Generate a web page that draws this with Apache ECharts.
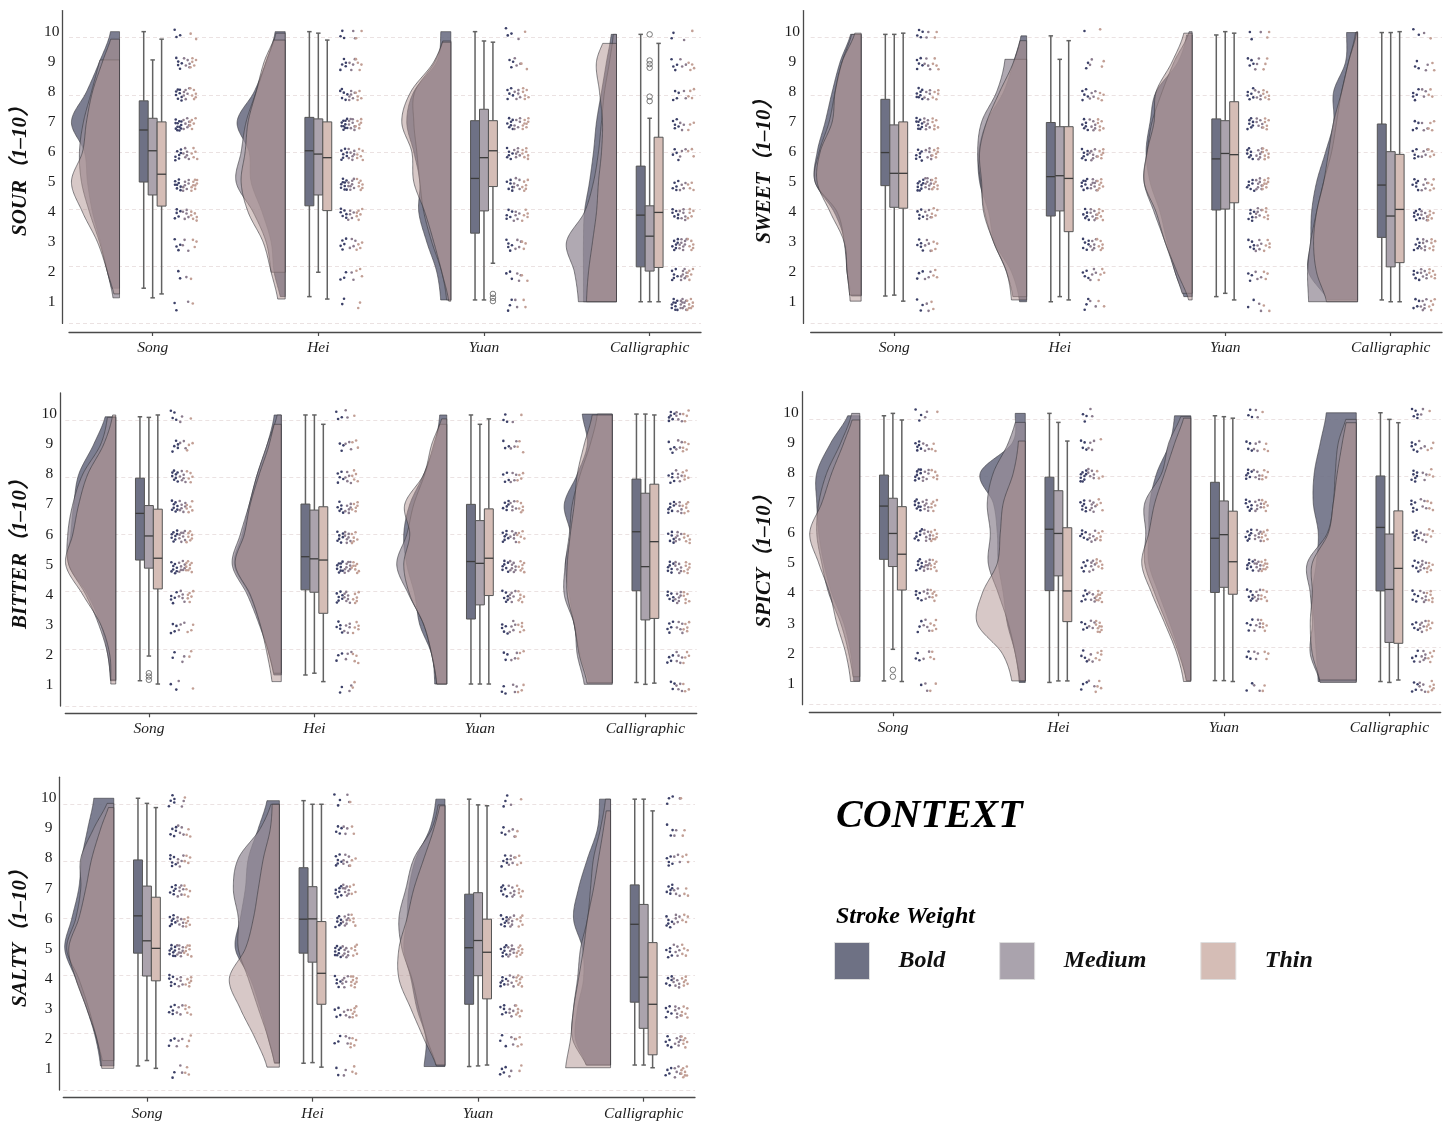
<!DOCTYPE html>
<html>
<head>
<meta charset="utf-8">
<script src="https://cdn.jsdelivr.net/npm/echarts@6/dist/echarts.min.js"></script>
<style>html,body{margin:0;padding:0;background:#fff}#main{width:1452px;height:1131px}</style>
</head>
<body>
<div id="main"></div>
<script>
// ---------------- DATA ----------------
const categories = ['Song', 'Hei', 'Yuan', 'Calligraphic'];
const groups = ['Bold', 'Medium', 'Thin'];
const tastes = ['SOUR', 'SWEET', 'BITTER', 'SPICY', 'SALTY'];
const yTickValues = [1, 2, 3, 4, 5, 6, 7, 8, 9, 10];
const responseLevels = [1, 2, 3, 4, 5, 6, 7, 8, 9, 10];

// box stats per category -> [Bold, Medium, Thin] : [lower whisker, Q1, median, Q3, upper whisker]
const sourBox = [
  [[1.47, 5.00, 6.73, 7.70, 10.0], [1.15, 4.57, 6.04, 7.12, 9.06], [1.28, 4.20, 5.26, 7.00, 9.75]],
  [[1.19, 4.21, 6.04, 7.15, 10.0], [2.00, 4.57, 5.93, 7.10, 9.95], [1.11, 4.05, 5.81, 7.00, 9.72]],
  [[1.08, 3.30, 5.12, 7.04, 10.0], [1.08, 4.04, 5.81, 7.42, 9.69], [2.30, 4.85, 6.04, 7.04, 9.65]],
  [[1.02, 2.18, 3.90, 5.53, 9.91], [1.02, 2.04, 3.20, 4.21, 7.12], [1.02, 2.16, 3.99, 6.49, 9.61]]
];
const sweetBox = [
  [[1.21, 4.88, 5.98, 7.75, 9.91], [1.24, 4.16, 5.29, 6.90, 9.91], [1.04, 4.13, 5.29, 7.00, 9.95]],
  [[1.02, 3.87, 5.18, 6.98, 9.86], [1.19, 4.04, 5.21, 6.84, 9.08], [1.08, 3.35, 5.12, 6.84, 9.70]],
  [[1.19, 4.07, 5.77, 7.10, 9.89], [1.30, 4.10, 5.95, 7.04, 10.0], [1.08, 4.31, 5.91, 7.67, 9.95]],
  [[1.08, 3.16, 4.90, 6.93, 9.97], [1.02, 2.18, 3.87, 6.01, 9.97], [1.02, 2.32, 4.09, 5.92, 10.0]]
];
const bitterBox = [
  [[1.14, 5.15, 6.70, 7.87, 9.91], [1.96, 4.88, 5.95, 6.96, 9.89], [1.03, 4.19, 5.21, 6.84, 9.97]],
  [[1.33, 4.16, 5.26, 7.01, 9.97], [1.39, 4.08, 5.19, 6.81, 9.97], [1.11, 3.38, 5.15, 6.92, 9.66]],
  [[1.03, 3.19, 5.10, 7.00, 9.97], [1.03, 3.66, 5.04, 6.46, 9.66], [1.03, 3.97, 5.21, 6.85, 9.84]],
  [[1.08, 4.13, 6.09, 7.84, 10.0], [1.02, 3.16, 4.93, 7.37, 10.0], [1.06, 3.21, 5.76, 7.67, 9.97]]
];
const spicyBox = [
  [[1.09, 5.13, 6.90, 7.93, 9.90], [2.14, 4.89, 5.99, 7.16, 9.98], [1.07, 4.11, 5.30, 6.88, 9.76]],
  [[1.04, 4.09, 6.13, 7.86, 9.98], [1.09, 4.58, 5.99, 7.41, 9.68], [1.09, 3.06, 4.08, 6.18, 9.06]],
  [[1.10, 4.03, 5.83, 7.69, 9.90], [1.10, 4.20, 5.95, 7.07, 9.87], [1.07, 3.97, 5.05, 6.73, 9.82]],
  [[1.07, 4.08, 6.19, 7.90, 10.0], [1.04, 2.37, 4.13, 5.97, 9.78], [1.12, 2.34, 4.83, 6.74, 9.67]]
];
const saltyBox = [
  [[1.10, 4.85, 6.09, 7.95, 10.0], [1.28, 4.09, 5.26, 7.08, 9.83], [1.02, 3.93, 5.01, 6.71, 9.69]],
  [[1.19, 4.85, 5.98, 7.69, 9.92], [1.21, 4.55, 5.99, 7.06, 9.80], [1.06, 3.15, 4.18, 5.90, 9.80]],
  [[1.08, 3.15, 5.03, 6.81, 9.97], [1.10, 4.10, 5.27, 6.86, 9.78], [1.13, 3.33, 4.88, 5.98, 9.75]],
  [[1.13, 3.22, 5.81, 7.12, 9.97], [1.13, 2.35, 4.05, 6.47, 9.97], [1.04, 1.47, 3.15, 5.20, 9.58]]
];

// outliers per category -> [Bold, Medium, Thin]
const sourOutliers = [[[], [], []], [[], [], []], [[], [], [1.28, 1.15, 1.04]], [[], [9.91, 9.04, 8.92, 8.80, 7.84, 7.69], []]];
const sweetOutliers = [[[], [], []], [[], [], []], [[], [], []], [[], [], []]];
const bitterOutliers = [[[], [1.39, 1.28, 1.17], []], [[], [], []], [[], [], []], [[], [], []]];
const spicyOutliers = [[[], [1.46, 1.23], []], [[], [], []], [[], [], []], [[], [], []]];
const saltyOutliers = [[[], [], []], [[], [], []], [[], [], []], [[], [], []]];

// half-violin density (relative width) at response levels 1..10, per category -> [Bold, Medium, Thin]
const sourViolin = [
  [[5, 12, 19, 27, 32, 35, 48, 33, 20, 9], [6, 12, 20, 30, 38, 40, 36, 28, 20, 12], [4, 12, 22, 37, 48, 37, 33, 27, 17, 7]],
  [[4, 11, 14, 23, 34, 36, 48, 31, 19, 10], [10, 14, 19, 32, 49, 44, 39, 29, 19, 9], [7, 14, 22, 37, 44, 40, 37, 29, 21, 9]],
  [[10, 14, 24, 32, 31, 37, 44, 37, 14, 10], [4, 9, 19, 27, 31, 34, 37, 36, 16, 6], [2, 9, 17, 26, 37, 39, 49, 40, 17, 6]],
  [[33, 33, 33, 32, 27, 23, 20, 15, 10, 5], [38, 42, 50, 32, 23, 18, 15, 12, 7, 3], [30, 28, 24, 20, 18, 15, 14, 17, 20, 10]]
];
const sweetViolin = [
  [[9, 14, 16, 27, 46, 44, 36, 29, 21, 10], [11, 14, 17, 24, 46, 42, 32, 26, 19, 9], [11, 14, 17, 31, 44, 41, 29, 26, 19, 6]],
  [[7, 15, 32, 38, 47, 48, 40, 23, 13, 5], [13, 20, 33, 42, 46, 49, 45, 30, 22, 22], [15, 20, 33, 43, 45, 47, 40, 27, 13, 5]],
  [[7, 17, 25, 32, 42, 46, 42, 36, 14, 5], [8, 17, 27, 38, 48, 45, 40, 30, 18, 3], [3, 15, 27, 36, 48, 45, 38, 36, 20, 8]],
  [[29, 49, 47, 46, 41, 32, 24, 24, 12, 11], [49, 50, 47, 41, 34, 26, 21, 16, 9, 2], [31, 41, 44, 41, 34, 29, 24, 16, 9, 1]]
];
const bitterViolin = [
  [[5, 8, 15, 28, 47, 45, 42, 37, 22, 10], [5, 8, 17, 30, 47, 48, 43, 33, 15, 8], [5, 6, 15, 33, 50, 43, 37, 28, 12, 3]],
  [[6, 12, 21, 32, 47, 39, 32, 24, 14, 7], [6, 12, 22, 34, 49, 41, 32, 24, 14, 4], [9, 14, 21, 31, 46, 37, 31, 22, 12, 6]],
  [[12, 15, 27, 32, 40, 43, 37, 23, 12, 7], [10, 15, 23, 38, 50, 40, 33, 22, 13, 5], [10, 15, 23, 37, 43, 37, 42, 23, 15, 4]],
  [[23, 32, 38, 43, 47, 42, 48, 35, 25, 30], [28, 35, 38, 48, 47, 43, 40, 32, 22, 15], [25, 33, 38, 45, 45, 42, 38, 35, 28, 20]]
];
const spicyViolin = [
  [[6, 9, 16, 28, 36, 41, 43, 43, 29, 11], [6, 11, 19, 31, 38, 43, 41, 33, 19, 8], [9, 14, 23, 30, 41, 50, 38, 28, 16, 6]],
  [[6, 10, 18, 22, 27, 28, 32, 45, 13, 10], [5, 10, 17, 27, 37, 35, 38, 32, 17, 8], [13, 23, 48, 43, 28, 25, 22, 12, 7, 7]],
  [[4, 11, 21, 32, 42, 42, 41, 34, 21, 16], [4, 12, 24, 36, 46, 45, 46, 29, 22, 9], [7, 14, 26, 39, 49, 42, 36, 26, 16, 6]],
  [[38, 40, 42, 44, 40, 38, 43, 42, 36, 30], [36, 46, 44, 46, 49, 29, 23, 21, 18, 9], [36, 44, 46, 44, 44, 28, 23, 19, 14, 9]]
];
const saltyViolin = [
  [[13, 18, 27, 38, 49, 42, 35, 32, 26, 20], [10, 17, 25, 35, 47, 38, 33, 33, 20, 5], [12, 17, 27, 38, 45, 35, 28, 22, 13, 3]],
  [[4, 11, 19, 29, 44, 39, 34, 31, 21, 12], [4, 11, 21, 31, 41, 41, 46, 41, 19, 7], [12, 24, 39, 50, 34, 26, 21, 16, 9, 7]],
  [[21, 19, 28, 34, 41, 38, 36, 29, 15, 9], [8, 18, 26, 33, 43, 46, 39, 31, 13, 6], [8, 21, 34, 46, 46, 38, 31, 21, 11, 4]],
  [[23, 35, 33, 27, 28, 37, 32, 23, 13, 11], [23, 38, 37, 33, 30, 23, 20, 17, 10, 5], [45, 40, 37, 32, 27, 23, 17, 12, 7, 3]]
];

// number of responses at levels 1..10, per category -> [Bold, Medium, Thin]
const sourCounts = [
  [[2, 2, 4, 5, 8, 7, 12, 8, 5, 3], [1, 1, 3, 5, 7, 6, 7, 6, 5, 0], [1, 1, 3, 6, 9, 5, 6, 6, 5, 2]],
  [[2, 3, 5, 6, 9, 7, 10, 6, 5, 3], [0, 2, 4, 5, 8, 7, 8, 6, 4, 2], [2, 3, 4, 6, 7, 6, 6, 5, 4, 2]],
  [[3, 3, 5, 5, 6, 6, 7, 5, 3, 3], [2, 3, 4, 5, 6, 6, 6, 5, 3, 1], [2, 2, 3, 5, 6, 7, 8, 6, 2, 1]],
  [[9, 6, 7, 6, 5, 4, 5, 4, 4, 2], [10, 8, 9, 6, 4, 3, 3, 2, 3, 1], [8, 6, 6, 5, 4, 3, 3, 4, 4, 1]]
];
const sweetCounts = [
  [[3, 3, 5, 5, 9, 7, 9, 8, 5, 4], [2, 3, 4, 5, 9, 6, 7, 5, 4, 2], [2, 3, 4, 5, 8, 6, 6, 5, 4, 2]],
  [[3, 4, 6, 6, 8, 7, 6, 5, 2, 1], [2, 4, 6, 7, 8, 7, 6, 4, 2, 0], [2, 4, 6, 7, 7, 6, 6, 4, 2, 1]],
  [[2, 3, 5, 6, 7, 7, 7, 6, 4, 2], [2, 3, 5, 6, 8, 7, 6, 5, 3, 1], [2, 3, 5, 6, 8, 7, 6, 6, 3, 2]],
  [[4, 5, 6, 7, 6, 5, 4, 5, 3, 2], [6, 6, 6, 6, 5, 4, 3, 3, 2, 1], [5, 6, 6, 6, 5, 4, 4, 3, 2, 1]]
];
const bitterCounts = [
  [[2, 2, 4, 5, 8, 8, 8, 8, 5, 4], [1, 2, 3, 5, 8, 8, 7, 6, 3, 2], [1, 2, 3, 6, 9, 7, 6, 5, 3, 1]],
  [[2, 3, 5, 7, 9, 7, 6, 5, 3, 3], [2, 3, 5, 7, 9, 7, 6, 5, 3, 2], [2, 4, 5, 6, 8, 6, 6, 5, 3, 1]],
  [[3, 3, 5, 6, 7, 7, 6, 4, 3, 3], [3, 3, 5, 6, 8, 6, 5, 4, 3, 1], [3, 3, 5, 6, 7, 6, 6, 4, 3, 1]],
  [[3, 4, 5, 6, 7, 6, 7, 5, 4, 6], [4, 5, 5, 7, 7, 6, 6, 5, 4, 5], [3, 4, 5, 6, 7, 6, 6, 5, 5, 4]]
];
const spicyCounts = [
  [[1, 3, 3, 5, 7, 7, 8, 8, 6, 3], [2, 2, 4, 5, 8, 7, 7, 6, 4, 2], [2, 3, 5, 6, 7, 8, 6, 5, 3, 1]],
  [[3, 4, 4, 5, 5, 6, 7, 9, 4, 3], [2, 3, 4, 5, 6, 6, 7, 6, 4, 2], [4, 5, 9, 9, 6, 5, 4, 3, 1, 0]],
  [[2, 3, 4, 6, 7, 7, 7, 6, 4, 3], [2, 3, 5, 6, 8, 7, 7, 5, 4, 2], [2, 3, 5, 6, 9, 7, 6, 5, 3, 1]],
  [[4, 4, 4, 5, 5, 6, 6, 7, 5, 5], [5, 6, 6, 6, 6, 4, 4, 3, 3, 2], [6, 5, 6, 6, 6, 4, 4, 3, 3, 1]]
];
const saltyCounts = [
  [[2, 3, 5, 6, 9, 7, 6, 6, 5, 5], [2, 3, 4, 5, 9, 6, 6, 5, 4, 2], [3, 3, 5, 6, 8, 6, 5, 4, 3, 1]],
  [[2, 3, 4, 5, 9, 7, 7, 6, 4, 3], [2, 3, 4, 6, 8, 7, 8, 6, 3, 2], [3, 5, 7, 9, 6, 5, 4, 3, 2, 1]],
  [[4, 3, 5, 6, 7, 7, 6, 5, 3, 3], [2, 3, 5, 6, 8, 7, 6, 5, 3, 1], [2, 4, 6, 8, 8, 6, 5, 4, 2, 1]],
  [[4, 5, 5, 5, 5, 6, 6, 5, 3, 3], [5, 6, 6, 6, 5, 5, 4, 3, 2, 1], [8, 6, 6, 6, 5, 4, 3, 3, 2, 1]]
];

// ---------------- LAYOUT & STYLE ----------------
const panels = [
  { box: sourBox, out: sourOutliers, vio: sourViolin, cnt: sourCounts },
  { box: sweetBox, out: sweetOutliers, vio: sweetViolin, cnt: sweetCounts },
  { box: bitterBox, out: bitterOutliers, vio: bitterViolin, cnt: bitterCounts },
  { box: spicyBox, out: spicyOutliers, vio: spicyViolin, cnt: spicyCounts },
  { box: saltyBox, out: saltyOutliers, vio: saltyViolin, cnt: saltyCounts }
];
const layout = [
  { left: 69, top: 10.6, width: 632, height: 312.8, yOff: 6.3, xOff: 8.6, tx: 20.5, ty: 166 },
  { left: 810.7, top: 10.6, width: 631.3, height: 312.8, yOff: 7.4, xOff: 8.6, tx: 765, ty: 166 },
  { left: 65.3, top: 393, width: 631.4, height: 313, yOff: 5, xOff: 7.3, tx: 20.5, ty: 549 },
  { left: 809.3, top: 391.7, width: 631.4, height: 313, yOff: 7.3, xOff: 7.5, tx: 764.5, ty: 556 },
  { left: 63.3, top: 777.2, width: 631.7, height: 312.8, yOff: 3.6, xOff: 7.7, tx: 20.5, ty: 933 }
];
const X_MIN = -0.505, X_MAX = 3.31, Y_MIN = 0.3, Y_MAX = 10.7, GRID_STEP = 1.9;
const VIOLIN_RIGHT = -0.2;          // flat edge of half violin, relative to category
const DENSITY_TO_X = 1 / 165.4;     // density width -> x units
const BOX_OFFSETS = [-0.054, 0, 0.054];
const BOX_WIDTH = 0.054;
const POINT_OFFSETS = [0.154, 0.202, 0.247];
const POINT_JITTER_X = 0.022, POINT_JITTER_Y = 0.42, POINT_SHIFT_Y = -0.08;

const VIOLIN_FILL = ['rgba(110,112,133,0.9)', 'rgba(150,140,152,0.75)', 'rgba(176,146,144,0.5)'];
const BOX_FILL = ['#6e7185', '#aba3ad', '#d5bdb6'];
const POINT_COLOR = ['#3c4068', '#8a7b8d', '#c29f95'];
const LEGEND_COLOR = ['#6e7184', '#aaa3ad', '#d5bdb6'];
const SERIF = '"Liberation Serif", "Times New Roman", "Noto Sans CJK SC", serif';
const AXIS_COLOR = '#4a4a4a';

// ---------------- HELPERS ----------------
function densityAt(prof, y) {
  const i = Math.min(Math.max(Math.floor(y), 1), 9);
  const t = y - i;
  const v = j => prof[Math.min(Math.max(j, 1), 10) - 1];
  const p0 = v(i - 1), p1 = v(i), p2 = v(i + 1), p3 = v(i + 2);
  const t2 = t * t, t3 = t2 * t;
  const r = 0.5 * (2 * p1 + (-p0 + p2) * t + (2 * p0 - 5 * p1 + 4 * p2 - p3) * t2 + (-p0 + 3 * p1 - 3 * p2 + p3) * t3);
  return Math.max(r, 0.5);
}
function rangeOf(p, c, g) {
  const s = panels[p].box[c][g], o = panels[p].out[c][g];
  return [Math.min(s[0], ...o), Math.max(s[4], ...o)];
}
function frac(v) { return v - Math.floor(v); }

function violinRenderer(p) {
  return function (params, api) {
    const c = api.value(0), g = api.value(2);
    const prof = panels[p].vio[c][g];
    const [lo, hi] = rangeOf(p, c, g);
    const x0 = c + VIOLIN_RIGHT;
    const pts = [api.coord([x0, hi])];
    const n = Math.max(2, Math.ceil((hi - lo) / 0.04));
    for (let k = 0; k <= n; k++) {
      const y = hi - (hi - lo) * k / n;
      pts.push(api.coord([x0 - densityAt(prof, y) * DENSITY_TO_X, y]));
    }
    pts.push(api.coord([x0, lo]));
    return {
      type: 'polygon',
      shape: { points: pts },
      style: { fill: VIOLIN_FILL[g], stroke: 'rgba(55,55,60,0.75)', lineWidth: 0.8 }
    };
  };
}
function boxRenderer(p) {
  return function (params, api) {
    const c = api.value(0), g = api.value(2);
    const s = panels[p].box[c][g];
    const xc = c + BOX_OFFSETS[g], h = BOX_WIDTH / 2, cap = BOX_WIDTH / 4;
    const P = (x, y) => api.coord([x, y]);
    const line = (a, b, style) => ({ type: 'line', shape: { x1: a[0], y1: a[1], x2: b[0], y2: b[1] }, style });
    const ws = { stroke: '#626262', lineWidth: 1.5 };
    const tl = P(xc - h, s[3]), br = P(xc + h, s[1]);
    return {
      type: 'group',
      children: [
        line(P(xc, s[0]), P(xc, s[1]), ws),
        line(P(xc, s[3]), P(xc, s[4]), ws),
        line(P(xc - cap, s[0]), P(xc + cap, s[0]), ws),
        line(P(xc - cap, s[4]), P(xc + cap, s[4]), ws),
        { type: 'rect', shape: { x: tl[0], y: tl[1], width: br[0] - tl[0], height: br[1] - tl[1] },
          style: { fill: BOX_FILL[g], stroke: '#555', lineWidth: 1 } },
        line(P(xc - h, s[2]), P(xc + h, s[2]), { stroke: '#3c3c3c', lineWidth: 1.3 })
      ]
    };
  };
}

// ---------------- OPTION ----------------
const grid = [], xAxis = [], yAxis = [], series = [];
panels.forEach((panel, p) => {
  const L = layout[p];
  grid.push({ left: L.left, top: L.top, width: L.width, height: L.height, containLabel: false, outerBoundsMode: 'none' });
  xAxis.push({
    type: 'value', gridIndex: p, min: X_MIN, max: X_MAX, offset: L.xOff,
    splitLine: { show: false },
    axisLine: { show: true, onZero: false, lineStyle: { color: AXIS_COLOR, width: 1.3 } },
    axisTick: { show: true, customValues: [0, 1, 2, 3], length: 4, lineStyle: { color: AXIS_COLOR, width: 1.2 } },
    axisLabel: { customValues: [0, 1, 2, 3], formatter: v => categories[Math.round(v)] || '',
      fontFamily: SERIF, fontStyle: 'italic', fontSize: 15.5, color: '#1c1c1c', margin: 8 }
  });
  yAxis.push({
    type: 'value', gridIndex: p, min: Y_MIN, max: Y_MAX, interval: GRID_STEP, offset: L.yOff,
    splitLine: { show: true, showMaxLine: false, lineStyle: { color: '#ebe2e2', type: [4, 3], width: 1 } },
    axisLine: { show: true, onZero: false, lineStyle: { color: AXIS_COLOR, width: 1.3 } },
    axisTick: { show: false },
    axisLabel: { customValues: yTickValues, fontFamily: SERIF, fontSize: 15.5, color: '#1c1c1c', margin: 11, align: 'center' }
  });

  const items = [];
  categories.forEach((cat, c) => groups.forEach((gname, g) => items.push([c, 5, g])));
  series.push({ type: 'custom', xAxisIndex: p, yAxisIndex: p, renderItem: violinRenderer(p), data: items, z: 2, silent: true, clip: false });
  series.push({ type: 'custom', xAxisIndex: p, yAxisIndex: p, renderItem: boxRenderer(p), data: items, z: 3, silent: true, clip: false });

  const outData = [];
  categories.forEach((cat, c) => groups.forEach((gname, g) => {
    panel.out[c][g].forEach(v => outData.push([c + BOX_OFFSETS[g], v]));
  }));
  series.push({ type: 'scatter', xAxisIndex: p, yAxisIndex: p, data: outData, symbol: 'circle', symbolSize: 5.5, z: 4, silent: true,
    itemStyle: { color: 'rgba(255,255,255,0)', borderColor: '#6a6a6a', borderWidth: 0.9, opacity: 1 } });

  // jittered raw responses (strip); jitter is a deterministic low-discrepancy layout offset
  let seq = p * 1000;
  groups.forEach((gname, g) => {
    const pts = [];
    categories.forEach((cat, c) => {
      responseLevels.forEach((lev, li) => {
        const n = panel.cnt[c][g][li];
        for (let i = 0; i < n; i++) {
          seq++;
          const jx = (frac(0.5 + seq * 0.7548776662) - 0.5) * 2 * POINT_JITTER_X;
          const jy = (frac(0.5 + seq * 0.5698402910) - 0.5) * POINT_JITTER_Y + POINT_SHIFT_Y;
          pts.push([c + POINT_OFFSETS[g] + jx, lev + jy]);
        }
      });
    });
    series.push({ type: 'scatter', name: gname, xAxisIndex: p, yAxisIndex: p, data: pts, symbol: 'circle', symbolSize: 2.6,
      z: 5, silent: true, itemStyle: { color: POINT_COLOR[g], opacity: 1 } });
  });
});

const graphic = tastes.map((t, p) => ({
  type: 'text', x: layout[p].tx, y: layout[p].ty, rotation: Math.PI / 2, silent: true,
  style: { text: t + '（1–10）', fontFamily: SERIF, fontStyle: 'italic', fontWeight: 'bold', fontSize: 21,
    fill: '#111', align: 'center', verticalAlign: 'middle' }
}));
graphic.push({ type: 'text', x: 836, y: 817, silent: true,
  style: { text: 'CONTEXT', fontFamily: SERIF, fontStyle: 'italic', fontWeight: 'bold', fontSize: 40, fill: '#000', align: 'left', verticalAlign: 'middle' } });
graphic.push({ type: 'text', x: 836, y: 917, silent: true,
  style: { text: 'Stroke Weight', fontFamily: SERIF, fontStyle: 'italic', fontWeight: 'bold', fontSize: 24, fill: '#000', align: 'left', verticalAlign: 'middle' } });

const option = {
  animation: false,
  backgroundColor: '#ffffff',
  grid, xAxis, yAxis, series, graphic,
  legend: {
    left: 834, top: 942, padding: 0, itemWidth: 35, itemHeight: 37, itemGap: 54, icon: 'rect', selectedMode: false,
    data: groups.map((g, i) => ({ name: g, itemStyle: { color: LEGEND_COLOR[i], borderColor: '#dedede', borderWidth: 1, opacity: 1 } })),
    textStyle: { fontFamily: SERIF, fontStyle: 'italic', fontWeight: 'bold', fontSize: 24, color: '#111', padding: [0, 0, 0, 24] }
  }
};
const chart = echarts.init(document.getElementById('main'), null, { renderer: 'canvas', width: 1452, height: 1131 });
chart.setOption(option);
</script>
</body>
</html>
